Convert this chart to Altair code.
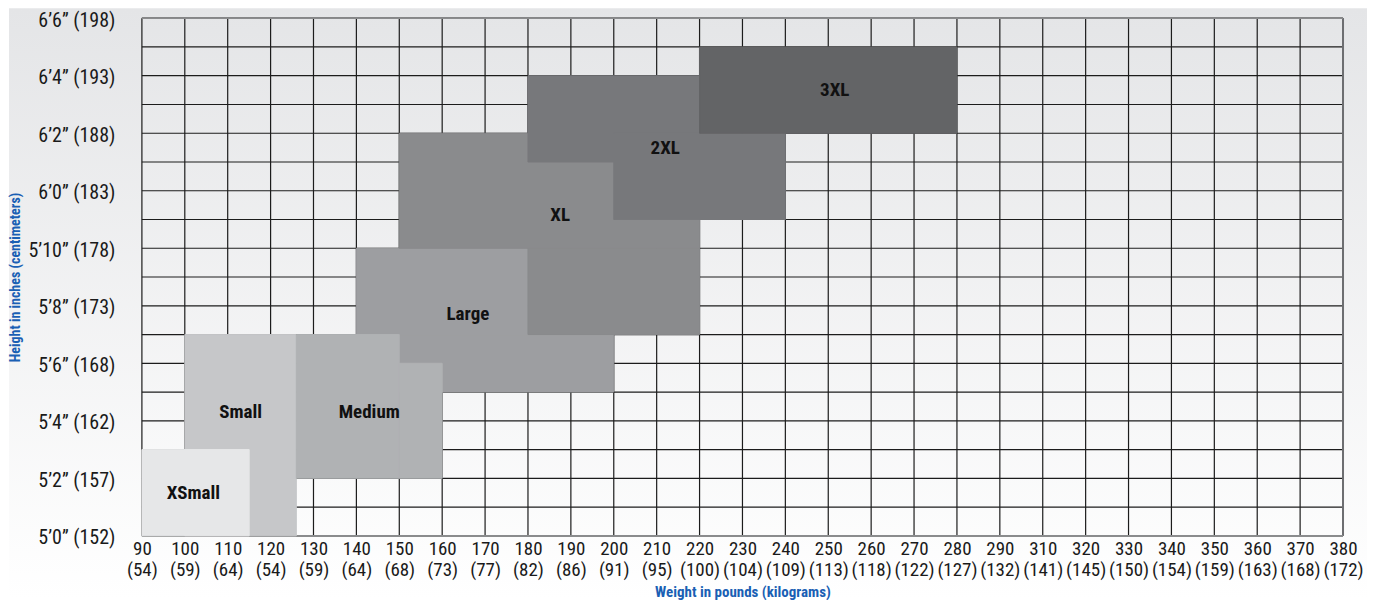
import altair as alt
import pandas as pd

# ---------------- data ----------------
sizes = ["XSmall", "Small", "Medium", "Large", "XL", "2XL", "3XL"]
size_colors = ["#e6e7e8", "#c6c7c9", "#b0b2b4", "#9d9ea1", "#8a8b8d", "#77787b", "#636466"]

# rectangle pieces of each size zone (drawn in this order, later on top)
rect_size = ["Small", "XSmall", "Large", "Large", "Medium", "Medium", "XL", "XL", "2XL", "2XL", "3XL"]
rect_lb1 = [100, 90, 140, 150, 126, 150, 150, 180, 180, 200, 220]
rect_lb2 = [126, 115, 180, 200, 150, 160, 220, 220, 220, 240, 280]
rect_in1 = [60, 60, 67, 65, 62, 62, 70, 67, 73, 71, 74]
rect_in2 = [67, 63, 70, 67, 67, 66, 74, 70, 76, 74, 77]

# size label anchor points
label_lb = [102, 113, 143, 166, 187.5, 212, 251.5]
label_in = [61.5, 64.3, 64.3, 67.7, 71.15, 73.5, 75.5]

# x tick labels (as printed; note the printed axis skips 300)
x_lbs = ["90", "100", "110", "120", "130", "140", "150", "160", "170", "180", "190", "200",
         "210", "220", "230", "240", "250", "260", "270", "280", "290", "310", "320", "330",
         "340", "350", "360", "370", "380"]
x_kg = ["54", "59", "64", "54", "59", "64", "68", "73", "77", "82", "86", "91", "95", "100",
        "104", "109", "113", "118", "122", "127", "132", "141", "145", "150", "154", "159",
        "163", "168", "172"]
x_ticks = [90 + 10 * i for i in range(len(x_lbs))]

# y ticks
y_grid = list(range(60, 79))
y_label_vals = [60, 62, 64, 66, 68, 70, 72, 74, 76, 78]
y_labels = ["5\u20190\u201d (152)", "5\u20192\u201d (157)", "5\u20194\u201d (162)", "5\u20196\u201d (168)",
            "5\u20198\u201d (173)", "5\u201910\u201d (178)", "6\u20190\u201d (183)", "6\u20192\u201d (188)",
            "6\u20194\u201d (193)", "6\u20196\u201d (198)"]

# ---------------- layout ----------------
W, H = 1202, 518
FONT = "Roboto Condensed, Liberation Sans Narrow, DejaVu Sans Condensed, Roboto, sans-serif"
BLUE = "#1a5fb4"

x_label_expr = "[" + ",".join(f"['{a}','({b})']" for a, b in zip(x_lbs, x_kg)) + "][round((datum.value-90)/10)]"
y_label_expr = "[" + ",".join(f"'{l}'" for l in y_labels) + "][round((datum.value-60)/2)]"

xscale = alt.Scale(domain=[x_ticks[0], x_ticks[-1]], nice=False, zero=False)
yscale = alt.Scale(domain=[y_grid[0], y_grid[-1]], nice=False, zero=False)

xaxis = alt.Axis(values=x_ticks, labelExpr=x_label_expr, labelFontSize=19, labelColor="#1a1a1a",
                 labelFont=FONT, labelPadding=4, labelLineHeight=21, labelFlush=False,
                 labelOverlap=False, ticks=False, domain=False, grid=False, zindex=2,
                 title="Weight in pounds (kilograms)", titleColor=BLUE, titleFont=FONT,
                 titleFontSize=15, titleFontWeight="bold", titlePadding=5)
yaxis = alt.Axis(values=y_label_vals, labelExpr=y_label_expr, labelFontSize=20, labelColor="#1a1a1a",
                 labelFont=FONT, labelPadding=27, labelOffset=2, labelFlush=False, labelOverlap=False,
                 ticks=False, domain=False, grid=False, zindex=2,
                 title="Height in inches (centimeters)", titleColor=BLUE, titleFont=FONT,
                 titleFontSize=14, titleFontWeight="bold", titlePadding=5)

rects = pd.DataFrame({"idx": list(range(len(rect_size))), "size": rect_size, "lb1": rect_lb1,
                      "lb2": rect_lb2, "in1": rect_in1, "in2": rect_in2})
labels = pd.DataFrame({"size": sizes, "lb": label_lb, "inch": label_in})
vgrid = pd.DataFrame({"lb": x_ticks})
hgrid = pd.DataFrame({"inch": y_grid})

bg = alt.Chart(pd.DataFrame({"a": [0]})).mark_rect(
    color=alt.Gradient(gradient="linear", x1=0, x2=0, y1=0, y2=1,
                       stops=[alt.GradientStop(color="#e4e5e7", offset=0),
                              alt.GradientStop(color="#ffffff", offset=1)])
).encode(x=alt.value(-133), x2=alt.value(1375 - 8 - 141), y=alt.value(-10), y2=alt.value(599 - 18))

vlines = alt.Chart(vgrid).mark_rule(color="#1c1c1c", strokeWidth=1.2).encode(
    x=alt.X("lb:Q", scale=xscale, axis=xaxis), y=alt.value(0), y2=alt.value(H))
hlines = alt.Chart(hgrid).mark_rule(color="#1c1c1c", strokeWidth=1.2).encode(
    y=alt.Y("inch:Q", scale=yscale, axis=yaxis), x=alt.value(0), x2=alt.value(W))

edge_v = alt.Chart(pd.DataFrame({"lb": [x_ticks[-1]]})).mark_rule(color="#6d6e71", strokeWidth=2).encode(
    x=alt.X("lb:Q", scale=xscale), y=alt.value(0), y2=alt.value(H))
edge_h = alt.Chart(pd.DataFrame({"inch": [y_grid[-1], y_grid[0]]})).mark_rule(color="#8a8b8d", strokeWidth=1.5).encode(
    y=alt.Y("inch:Q", scale=yscale), x=alt.value(0), x2=alt.value(W))

size_scale = alt.Scale(domain=sizes, range=size_colors)
zones = alt.Chart(rects).mark_rect(strokeWidth=1).encode(
    x=alt.X("lb1:Q", scale=xscale), x2="lb2:Q",
    y=alt.Y("in1:Q", scale=yscale), y2="in2:Q",
    color=alt.Color("size:N", scale=size_scale, legend=None),
    stroke=alt.Stroke("size:N", scale=size_scale, legend=None),
    order=alt.Order("idx:Q"))

texts = alt.Chart(labels).mark_text(font=FONT, fontSize=19, fontWeight="bold", color="#111111").encode(
    x=alt.X("lb:Q", scale=xscale), y=alt.Y("inch:Q", scale=yscale), text="size:N")

chart = alt.layer(bg, vlines, hlines, edge_v, edge_h, zones, texts).properties(
    width=W, height=H, padding=0
).configure_view(strokeWidth=0).configure(background="#ffffff")

chart.save("out.html", embed_options={"renderer": "svg", "actions": False})
